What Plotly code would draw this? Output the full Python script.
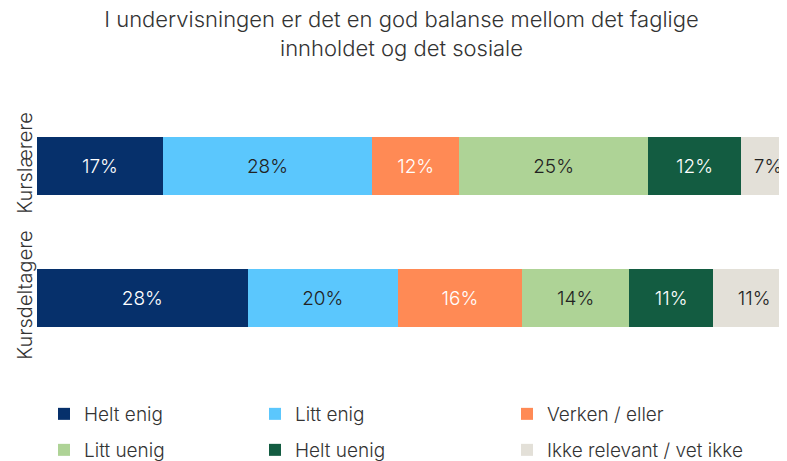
import plotly.graph_objects as go

categories = ["Kurslærere", "Kursdeltagere"]
series_names = ["Helt enig", "Litt enig", "Verken / eller", "Litt uenig", "Helt uenig", "Ikke relevant / vet ikke"]
helt_enig = [16.6, 27.8]
litt_enig = [27.6, 19.8]
verken = [11.5, 16.4]
litt_uenig = [24.9, 14.1]
helt_uenig = [12.3, 11.1]
ikke_relevant = [7.1, 10.8]
series_values = [helt_enig, litt_enig, verken, litt_uenig, helt_uenig, ikke_relevant]

colors = ["#06306B", "#5BC7FD", "#FF8A55", "#AED396", "#135C41", "#E3E0D8"]
text_colors = ["#FFFFFF", "#222222", "#FFFFFF", "#222222", "#FFFFFF", "#222222"]
legend_ids = ["legend", "legend2", "legend3", "legend4", "legend5", "legend6"]

FONT = "Inter, Lato, sans-serif"

fig = go.Figure()
for name, vals, col, tcol, lg in zip(series_names, series_values, colors, text_colors, legend_ids):
    fig.add_trace(go.Bar(
        y=categories, x=vals, name=name, orientation="h",
        marker=dict(color=col, line=dict(width=0)),
        text=[f"{v:.0f}%" for v in vals],
        textposition="inside", insidetextanchor="middle", textangle=0,
        constraintext="none",
        textfont=dict(color=tcol, size=19, family=FONT, weight=300),
        width=0.44, legend=lg,
        hoverinfo="skip",
    ))

legend_common = dict(
    orientation="v", xref="container", yref="container",
    xanchor="left", yanchor="top",
    font=dict(size=19, family=FONT, color="#333333", weight=300),
    bgcolor="rgba(0,0,0,0)", itemwidth=30,
)
col_x = [36 / 787, 247 / 787, 499 / 787]
row_y = [1 - 387 / 461, 1 - 423 / 461]

fig.update_layout(
    width=787, height=461,
    margin=dict(l=29, r=0, t=92, b=105, autoexpand=False),
    paper_bgcolor="white", plot_bgcolor="white",
    barmode="stack",
    title=dict(
        text="I undervisningen er det en god balanse mellom det faglige<br>innholdet og det sosiale",
        x=0.5, xref="container", xanchor="center",
        y=0.958, yref="container", yanchor="top",
        font=dict(size=22, family=FONT, color="#333333", weight=300),
    ),
    xaxis=dict(range=[0, 100], visible=False, fixedrange=True),
    yaxis=dict(
        autorange="reversed", tickangle=-90, showline=False, showgrid=False,
        ticks="", ticklabelstandoff=0,
        tickfont=dict(size=20, family=FONT, color="#333333", weight=300),
    ),
    legend=dict(x=col_x[0], y=row_y[0], **legend_common),
    legend2=dict(x=col_x[1], y=row_y[0], **legend_common),
    legend3=dict(x=col_x[2], y=row_y[0], **legend_common),
    legend4=dict(x=col_x[0], y=row_y[1], **legend_common),
    legend5=dict(x=col_x[1], y=row_y[1], **legend_common),
    legend6=dict(x=col_x[2], y=row_y[1], **legend_common),
    showlegend=True,
)

fig.write_html("out.html")
